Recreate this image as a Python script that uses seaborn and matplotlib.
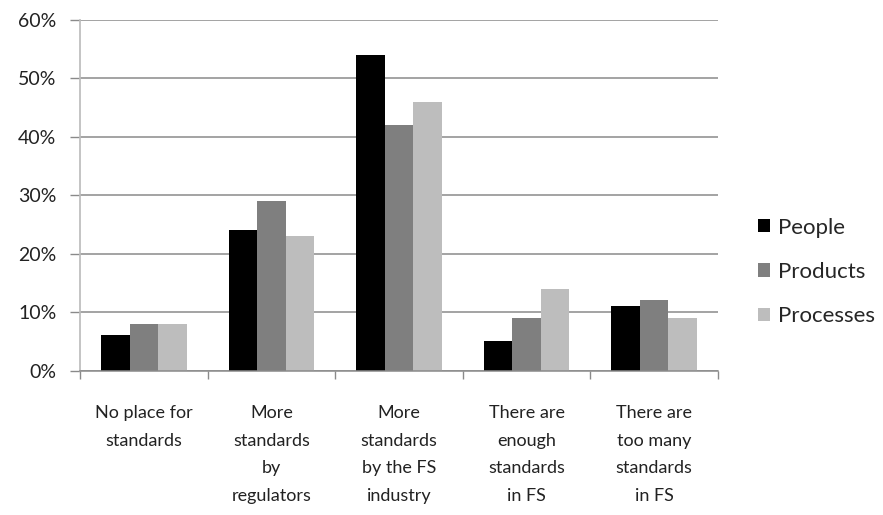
import matplotlib
matplotlib.use("Agg")
import matplotlib.pyplot as plt
import matplotlib.patches as mpatches
import seaborn as sns
import pandas as pd

categories = [
    "No place for\nstandards",
    "More\nstandards\nby\nregulators",
    "More\nstandards\nby the FS\nindustry",
    "There are\nenough\nstandards\nin FS",
    "There are\ntoo many\nstandards\nin FS",
]
series = ["People", "Products", "Processes"]
people = [6, 24, 54, 5, 11]
products = [8, 29, 42, 9, 12]
processes = [8, 23, 46, 14, 9]
y_ticks = [0, 10, 20, 30, 40, 50, 60]
colors = ["#000000", "#7f7f7f", "#bdbdbd"]

rows = []
for name, vals in zip(series, [people, products, processes]):
    for cat, v in zip(categories, vals):
        rows.append({"category": cat, "series": name, "value": v})
df = pd.DataFrame(rows)

sns.set_theme(style="white")
plt.rcParams["font.family"] = ["Lato", "DejaVu Sans"]

fig = plt.figure(figsize=(8.83, 5.15), dpi=100)
ax = fig.add_axes([80 / 883, 1 - 370.5 / 515, 638 / 883, 350.5 / 515])

sns.barplot(data=df, x="category", y="value", hue="series", order=categories,
            hue_order=series, palette=colors, width=0.67, saturation=1,
            edgecolor="none", linewidth=0, ax=ax, legend=False)

ax.set_xlim(-0.5, len(categories) - 0.5)
ax.set_ylim(0, 60)
ax.set_yticks(y_ticks)
ax.set_yticklabels([f"{t}%" for t in y_ticks], fontsize=14, color="#222222")
ax.yaxis.grid(True, color="#8a8a8a", linewidth=1.1)
ax.set_axisbelow(True)
ax.tick_params(axis="y", length=7, color="#8a8a8a", width=1, pad=10, left=True)

ax.set_xticks(range(len(categories)))
ax.set_xticklabels(categories, fontsize=13, color="#222222", linespacing=1.88)
ax.set_xticks([i - 0.5 for i in range(len(categories) + 1)], minor=True)
ax.tick_params(axis="x", which="major", length=0, pad=25)
ax.tick_params(axis="x", which="minor", length=6, color="#8a8a8a", width=1, bottom=True)

ax.set_xlabel("")
ax.set_ylabel("")
for side in ["top", "right"]:
    ax.spines[side].set_visible(False)
ax.spines["left"].set_color("#bdbdbd")
ax.spines["bottom"].set_color("#8a8a8a")
ax.spines["bottom"].set_linewidth(1.1)

handles = [mpatches.Patch(facecolor=c, edgecolor="none", label=s) for c, s in zip(colors, series)]
fig.legend(handles=handles, loc="center left", bbox_to_anchor=(758 / 883, 1 - 272 / 515),
           frameon=False, fontsize=16, handlelength=0.55, handleheight=0.55,
           handletextpad=0.35, labelspacing=1.1, borderaxespad=0, borderpad=0)

fig.savefig("out.png", dpi=100, facecolor="white")
